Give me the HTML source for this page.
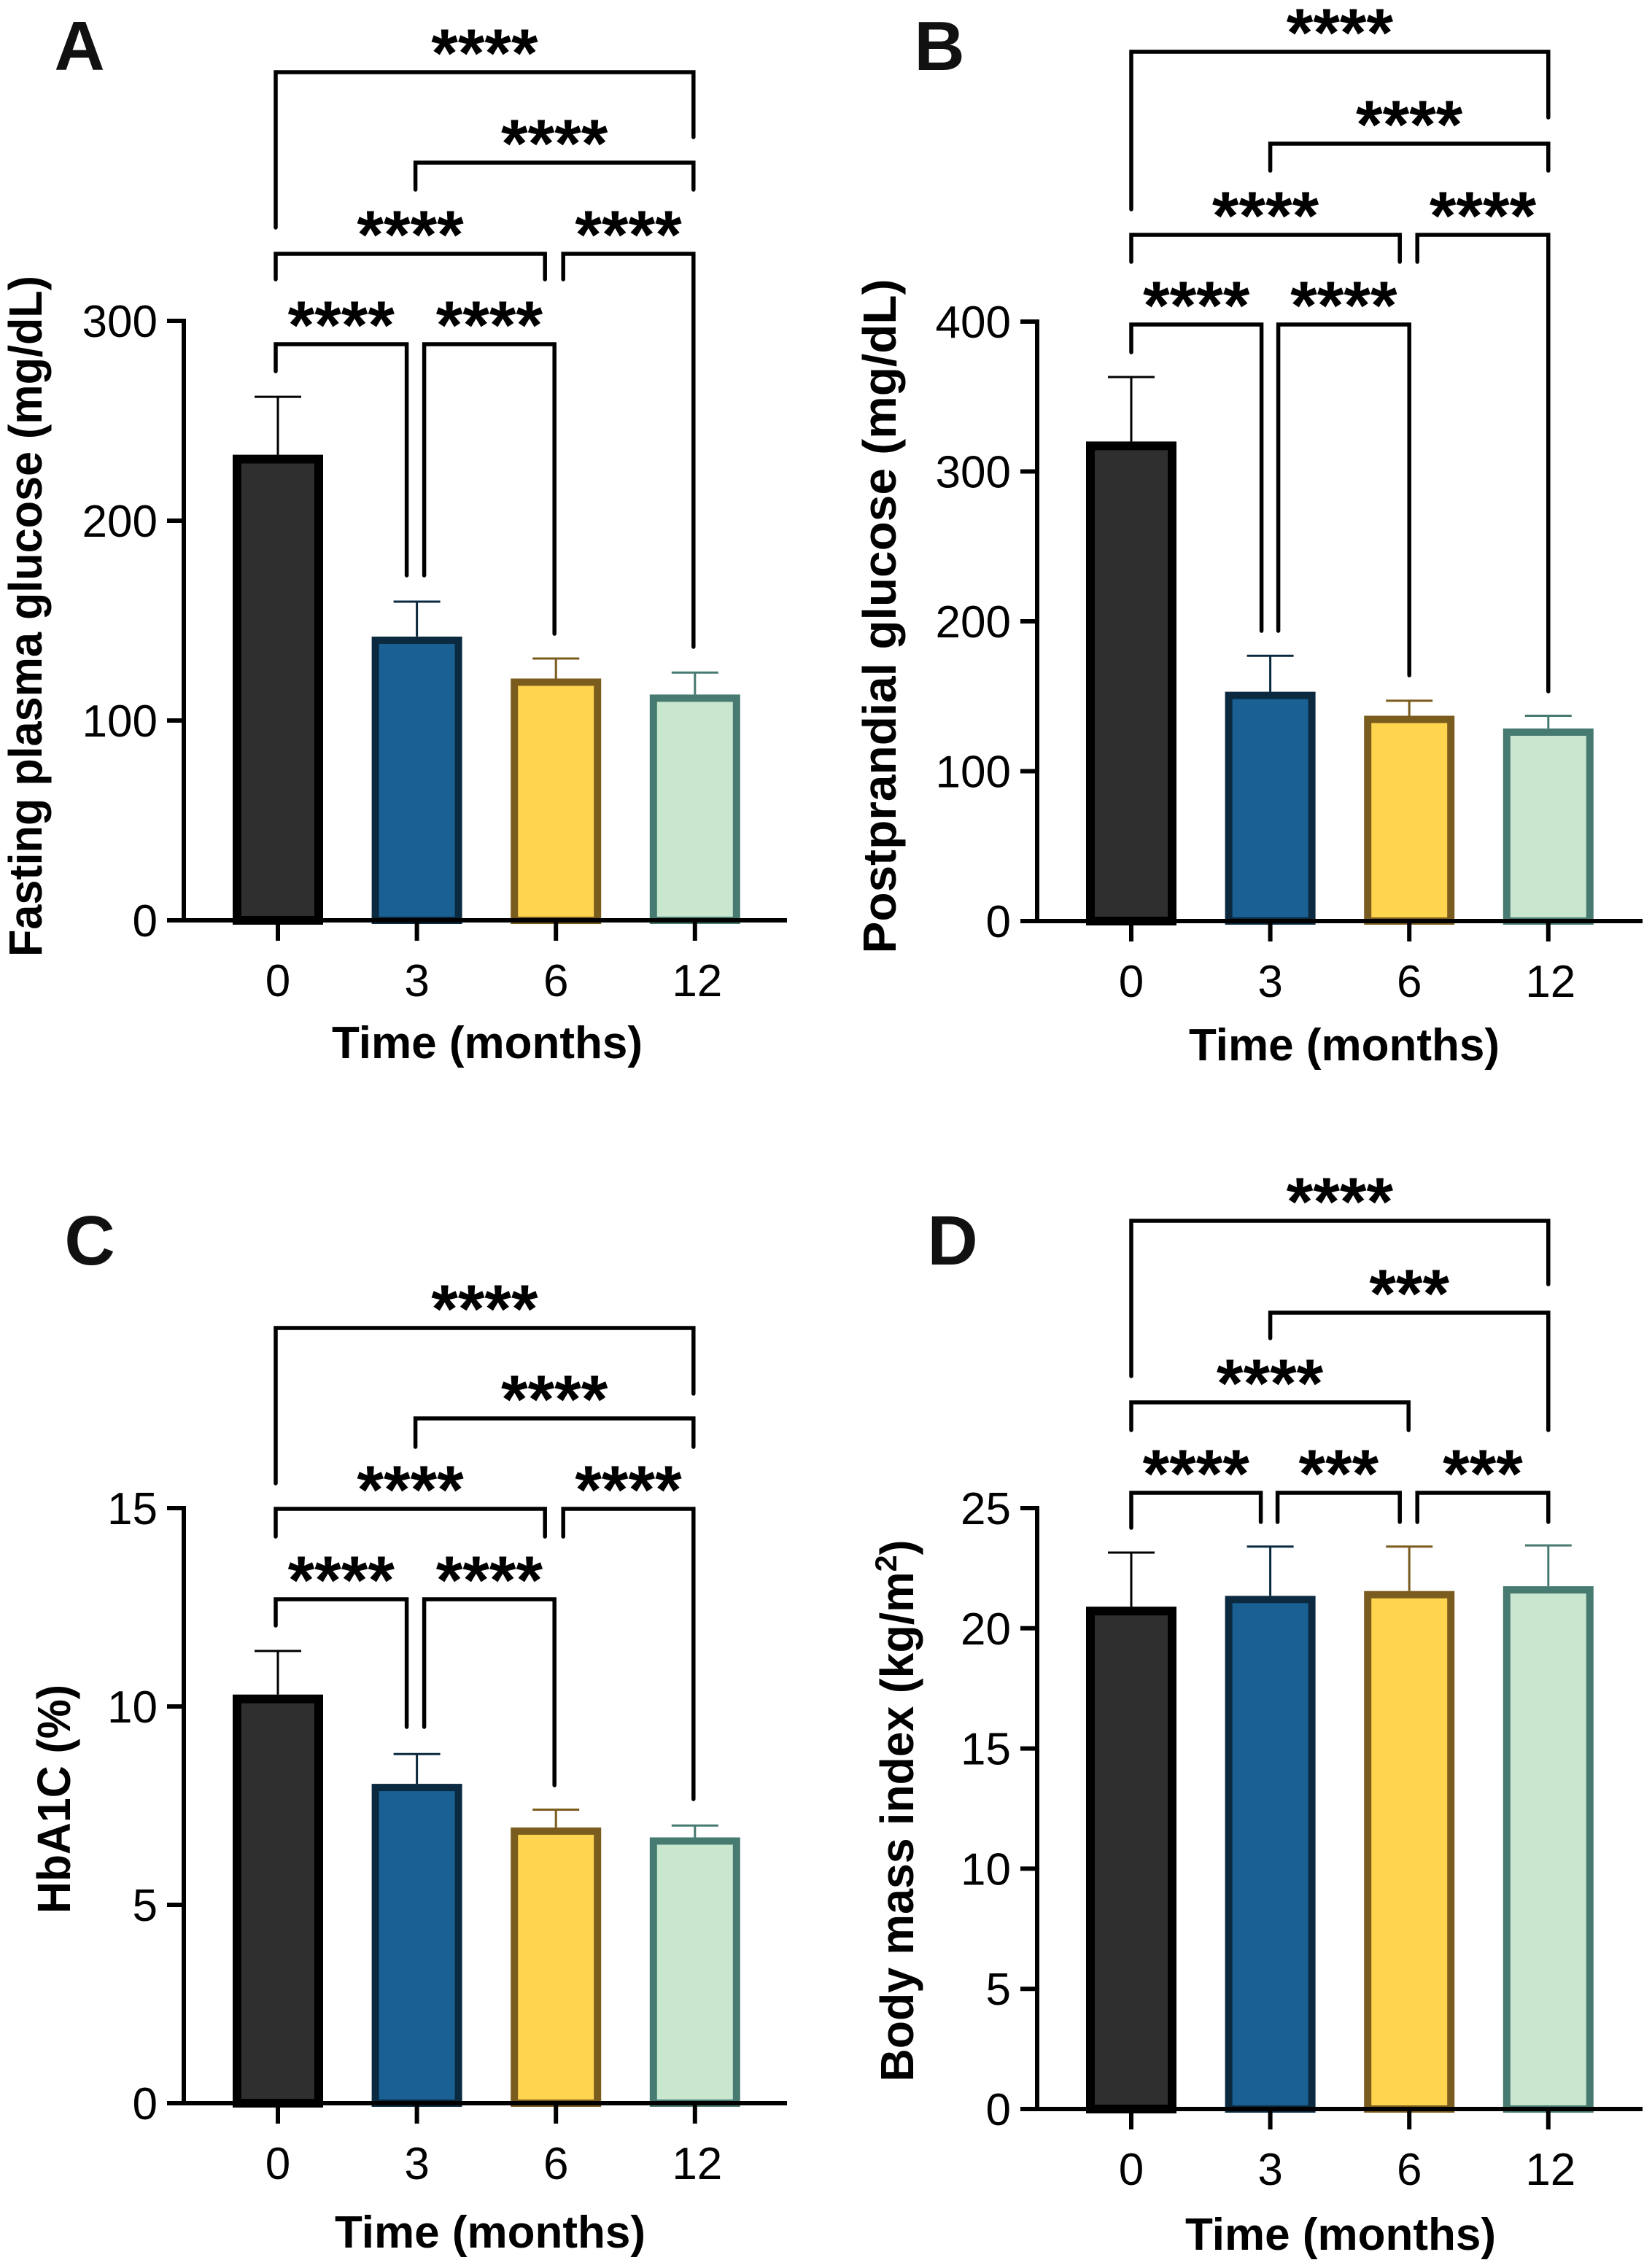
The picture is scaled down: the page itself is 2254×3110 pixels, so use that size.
<!DOCTYPE html>
<html><head><meta charset="utf-8"><style>
html,body{margin:0;padding:0;background:#fff;}
svg{display:block;}
text{font-family:"Liberation Sans",Arial,sans-serif;}
</style></head>
<body>
<svg id="fig" xmlns="http://www.w3.org/2000/svg" width="2254" height="3110" viewBox="0 0 2254 3110"></svg>
<script>
// ---- data ----
const categories = ["0", "3", "6", "12"];
const valuesA = [233, 142, 121, 113];
const errorsA = [262, 159.5, 131, 124];
const valuesB = [320, 153, 137, 128.5];
const errorsB = [363, 177, 147, 137];
const valuesC = [10.3, 8.05, 6.95, 6.7];
const errorsC = [11.4, 8.8, 7.4, 7.0];
const valuesD = [20.9, 21.35, 21.55, 21.75];
const errorsD = [23.15, 23.4, 23.4, 23.45];
const ticksA = [0, 100, 200, 300];
const ticksB = [0, 100, 200, 300, 400];
const ticksC = [0, 5, 10, 15];
const ticksD = [0, 5, 10, 15, 20, 25];
const sigA = ["****", "****", "****", "****", "****", "****"];
const sigB = ["****", "****", "****", "****", "****", "****"];
const sigC = ["****", "****", "****", "****", "****", "****"];
const sigD = ["****", "***", "****", "****", "***", "***"];

const fills = ["#2f2f2f", "#1a6093", "#ffd54f", "#c9e6cf"];
const strokes = ["#000000", "#0b2a40", "#7a5c1e", "#477a70"];
const NS = "http://www.w3.org/2000/svg";
const svg = document.getElementById("fig");

function mk(tag, attrs, parent) {
  const e = document.createElementNS(NS, tag);
  for (const k in attrs) e.setAttribute(k, attrs[k]);
  (parent || svg).appendChild(e);
  return e;
}

function panel(p) {
  const g = mk("g", {});
  
  
  const yScale = v => p.y0 - (v / p.max) * (p.y0 - p.yTop);
  const xScale = i => p.ax + 129 + i * 190.6;

  const lt = mk("text", {x: p.letter[0], y: p.letter[1] + 34, "font-size": 96, "font-weight": "bold", "text-anchor": "middle", fill: "#111"}, g);
  lt.textContent = p.id;
  
  

  p.values.forEach((v, i) => {
    const cx = xScale(i);
    const sw = i === 0 ? 12 : 10;
    const top = yScale(v);
    const r = mk("rect", {x: cx - 62 + sw / 2, y: top + sw / 2, width: 124 - sw, height: p.y0 - top - sw / 2, fill: fills[i], stroke: strokes[i], "stroke-width": sw}, g);
    
    
    const ey = yScale(p.errors[i]);
    const eb = mk("path", {d: `M${cx},${top} V${ey} M${cx - 32},${ey} H${cx + 32}`, stroke: strokes[i], "stroke-width": 3, fill: "none"}, g);
    
    
  });

  const yax = mk("path", {d: `M${p.ax},${p.yTop - 3} V${p.y0}`, stroke: "#000", "stroke-width": 6, fill: "none"}, g);
  
  
  const xax = mk("path", {d: `M${p.ax - 23},${p.y0} H${p.xEnd}`, stroke: "#000", "stroke-width": 6, fill: "none"}, g);
  
  

  p.ticks.forEach(t => {
    const y = yScale(t);
    const tk = mk("path", {d: `M${p.ax - 23},${y} H${p.ax}`, stroke: "#000", "stroke-width": 6}, g);
    
    
    const tl = mk("text", {x: p.ax - 36, y: y + 22, "font-size": 62, "text-anchor": "end", fill: "#000"}, g);
    tl.textContent = t;
    
    
  });
  categories.forEach((c, i) => {
    const x = xScale(i);
    const tk = mk("path", {d: `M${x},${p.y0} V${p.y0 + 28}`, stroke: "#000", "stroke-width": 6}, g);
    
    
    const tl = mk("text", {x: x + (c.length > 1 ? 3 : 0), y: p.y0 + 104, "font-size": 62, "text-anchor": "middle", fill: "#000"}, g);
    tl.textContent = c;
    
    
  });

  const xt = mk("text", {x: p.xTitle[0], y: p.xTitle[1], "font-size": 62, "font-weight": "bold", "text-anchor": "middle", fill: "#000"}, g);
  xt.textContent = "Time (months)";
  
  
  const yt = mk("text", {x: 0, y: 0, "font-size": 64, "font-weight": "bold", "text-anchor": "middle", fill: "#000",
    transform: `translate(${p.yTitle[0]},${p.yTitle[1]}) rotate(-90)`, textLength: p.yTitle[2], lengthAdjust: "spacingAndGlyphs"}, g);
  if (p.sup) {
    yt.textContent = p.title;
    const s = mk("tspan", {"baseline-shift": "super", "font-size": 42}, yt);
    s.textContent = "2";
    const e = mk("tspan", {}, yt);
    e.textContent = ")";
  } else {
    yt.textContent = p.title;
  }
  
  

  p.brackets.forEach((b, k) => {
    const x1 = xScale(b[0]) + b[5], x2 = xScale(b[1]) + b[6];
    const br = mk("path", {d: `M${x1},${b[3]} V${b[2]} H${x2} V${b[4]}`, stroke: "#000", "stroke-width": 5.5, fill: "none", "stroke-linecap": "round", "stroke-linejoin": "miter"}, g);
    
    
    const st = mk("text", {x: (x1 + x2) / 2, y: b[2] + 6, "font-size": 94, "font-weight": "bold", "text-anchor": "middle", fill: "#000"}, g);
    st.textContent = p.sig[k];
    
    
  });
}

panel({id: "A", ax: 252, y0: 1262, yTop: 440, max: 300, xEnd: 1079, values: valuesA, errors: errorsA, ticks: ticksA, sig: sigA,
  letter: [109, 62], xTitle: [668, 1451], yTitle: [57, 845, 934], title: "Fasting plasma glucose (mg/dL)",
  brackets: [[0,3,99,312,188,-3,-2],[1,3,223,260,260,-2,-2],[0,2,348,383,383,-3,-15],[2,3,348,383,887,10,-2],[0,1,472,509,789,-3,-14],[1,2,472,789,869,10,-2]]});
panel({id: "B", ax: 1422, y0: 1263, yTop: 441, max: 400, xEnd: 2252, values: valuesB, errors: errorsB, ticks: ticksB, sig: sigB,
  letter: [1288, 62], xTitle: [1843, 1454], yTitle: [1228, 845, 925], title: "Postprandial glucose (mg/dL)",
  brackets: [[0,3,71,287,161,0,0],[1,3,197,234,234,0,0],[0,2,322,359,359,0,-13],[2,3,322,359,948,11,0],[0,1,445,483,865,0,-12],[1,2,445,865,926,11,0]]});
panel({id: "C", ax: 252, y0: 2884, yTop: 2068, max: 15, xEnd: 1079, values: valuesC, errors: errorsC, ticks: ticksC, sig: sigC,
  letter: [123, 1700], xTitle: [672, 3082], yTitle: [96, 2467, 314], title: "HbA1C (%)",
  brackets: [[0,3,1821,2034,1911,-3,-2],[1,3,1945,1984,1984,-2,-2],[0,2,2069,2107,2107,-3,-15],[2,3,2069,2107,2467,10,-2],[0,1,2193,2229,2368,-3,-14],[1,2,2193,2368,2448,10,-2]]});
panel({id: "D", ax: 1422, y0: 2892, yTop: 2068, max: 25, xEnd: 2252, values: valuesD, errors: errorsD, ticks: ticksD, sig: sigD, sup: true,
  letter: [1306, 1700], xTitle: [1838, 3085], yTitle: [1252, 2483, 743], title: "Body mass index (kg/m",
  brackets: [[0,3,1674,1887,1761,0,0],[1,3,1800,1835,1961,0,0],[0,2,1923,1961,1961,0,-1],[0,1,2047,2095,2087,0,-13],[1,2,2047,2087,2087,10,-13],[2,3,2047,2087,2087,11,0]]});
</script>
</body></html>
